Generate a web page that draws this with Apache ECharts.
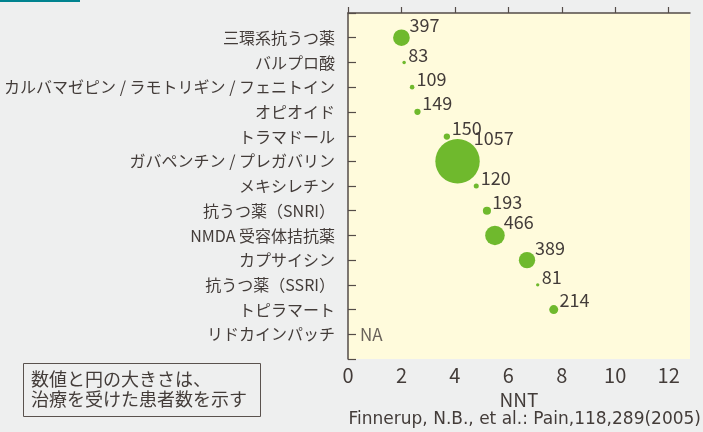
<!DOCTYPE html>
<html>
<head>
<meta charset="utf-8">
<script src="https://cdn.jsdelivr.net/npm/echarts@6/dist/echarts.min.js"></script>
<style>
  html, body { margin: 0; padding: 0; background: #eeefef; }
  #main { width: 703px; height: 432px; }
</style>
</head>
<body>
<div id="main"></div>
<script>
// 薬剤（上から順）
const drugs = [
  '三環系抗うつ薬',
  'バルプロ酸',
  'カルバマゼピン / ラモトリギン / フェニトイン',
  'オピオイド',
  'トラマドール',
  'ガバペンチン / プレガバリン',
  'メキシレチン',
  '抗うつ薬（SNRI）',
  'NMDA 受容体拮抗薬',
  'カプサイシン',
  '抗うつ薬（SSRI）',
  'トピラマート',
  'リドカインパッチ'
];
// NNT（null = NA）
const nnt = [2.0, 2.1, 2.4, 2.6, 3.7, 4.1, 4.8, 5.2, 5.5, 6.7, 7.1, 7.7, null];
// 治療を受けた患者数
const patients = [397, 83, 109, 149, 150, 1057, 120, 193, 466, 389, 81, 214, null];
const xTicks = [0, 2, 4, 6, 8, 10, 12];

const font = "'Noto Sans CJK JP', 'Noto Sans', sans-serif";
const textColor = '#433c39';
const axisColor = '#544c48';

function bubbleSize(n) {
  return n * 0.042;
}

const bubbles = [];
const naPoints = [];
drugs.forEach(function (d, i) {
  if (nnt[i] == null) {
    naPoints.push({ value: [0, i + 1] });
    return;
  }
  const s = bubbleSize(patients[i]);
  const r = s / 2;
  bubbles.push({
    value: [nnt[i], i + 1, patients[i]],
    symbolSize: s,
    label: { position: [r + 0.6 * r + 3, r - 0.75 * r + 3] }
  });
});

const chart = echarts.init(document.getElementById('main'));
chart.setOption({
  backgroundColor: '#eeefef',
  textStyle: { fontFamily: font },
  grid: {
    left: 348, top: 13, right: 13, bottom: 73,
    show: true, backgroundColor: '#fffbdc', borderWidth: 0
  },
  xAxis: {
    type: 'value', min: 0, max: 12.8,
    name: 'NNT', nameLocation: 'middle', nameGap: 27,
    nameTextStyle: { fontSize: 19, color: textColor, fontFamily: font },
    axisLine: { lineStyle: { color: axisColor, width: 1.5 } },
    axisTick: { inside: true, length: 6, customValues: xTicks, lineStyle: { color: axisColor, width: 1.2 } },
    axisLabel: { customValues: xTicks, fontSize: 20, color: textColor, margin: 6, fontFamily: font },
    splitLine: { show: false }
  },
  yAxis: {
    type: 'value', inverse: true, min: 0, max: 14, interval: 1,
    axisLine: { show: true, lineStyle: { color: axisColor, width: 1.5 } },
    axisTick: {
      show: true, inside: true, length: 8,
      customValues: [0, 1, 2, 3, 4, 5, 6, 7, 8, 9, 10, 11, 12, 13, 14],
      lineStyle: { color: axisColor, width: 1.2 }
    },
    axisLabel: {
      customValues: drugs.map(function (d, i) { return i + 1; }),
      formatter: function (v) { return drugs[v - 1]; },
      fontSize: 16, color: textColor, margin: 13, fontFamily: font
    },
    splitLine: { show: false }
  },
  series: [
    {
      type: 'scatter',
      data: bubbles,
      itemStyle: { color: '#6fb92d', opacity: 1 },
      label: {
        show: true,
        formatter: function (p) { return p.value[2]; },
        align: 'left', verticalAlign: 'bottom',
        fontSize: 18, color: textColor, fontFamily: font
      },
      emphasis: { disabled: true },
      z: 3
    },
    {
      type: 'scatter',
      data: naPoints,
      symbolSize: 0,
      label: {
        show: true, position: 'right', distance: 12,
        formatter: 'NA', fontSize: 17, color: textColor, fontFamily: font
      },
      emphasis: { disabled: true }
    }
  ],
  graphic: [
    { type: 'rect', left: 0, top: 0, shape: { width: 80, height: 2 }, style: { fill: '#00838f' } },
    {
      type: 'rect', left: 23, top: 363,
      shape: { width: 237, height: 53 },
      style: { fill: 'transparent', stroke: '#5a524e', lineWidth: 1 }
    },
    {
      type: 'text', left: 31, top: 369,
      style: {
        text: '数値と円の大きさは、\n治療を受けた患者数を示す',
        fontSize: 18, fontFamily: font, fill: textColor, lineHeight: 20
      }
    },
    {
      type: 'text', right: 2, bottom: 4,
      style: {
        text: 'Finnerup, N.B., et al.: Pain,118,289(2005)',
        fontSize: 17, fontFamily: 'DejaVu Sans', fill: textColor
      }
    }
  ]
});
</script>
</body>
</html>
